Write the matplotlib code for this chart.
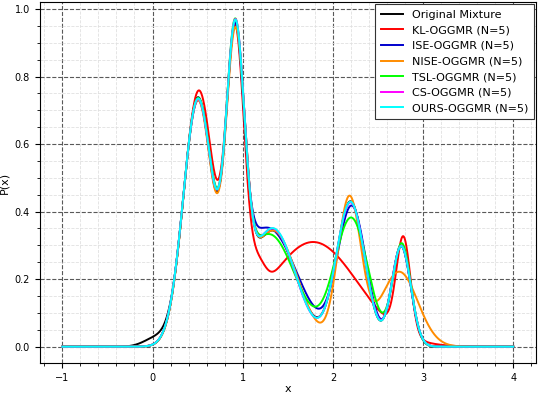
import numpy as np
import matplotlib
matplotlib.use('Agg')
import matplotlib.pyplot as plt
from matplotlib.ticker import AutoMinorLocator

# Mixture components: (amplitude, mean, std) per component
original_amp = [0.024, 0.736, 0.836, 0.344, 0.429, 0.297]
original_mu = [0.03, 0.504, 0.917, 1.333, 2.196, 2.757]
original_sd = [0.13, 0.161, 0.104, 0.262, 0.159, 0.106]

kl_amp = [0.746, 0.845, 0.091, 0.310, 0.285]
kl_mu = [0.512, 0.918, 1.168, 1.780, 2.782]
kl_sd = [0.165, 0.101, 0.085, 0.501, 0.078]

ise_amp = [0.706, 0.737, 0.352, 0.411, 0.298]
ise_mu = [0.500, 0.914, 1.275, 2.210, 2.759]
ise_sd = [0.162, 0.096, 0.334, 0.160, 0.104]

nise_amp = [0.727, 0.816, 0.344, 0.439, 0.222]
nise_mu = [0.503, 0.918, 1.335, 2.183, 2.735]
nise_sd = [0.162, 0.104, 0.269, 0.130, 0.205]

tsl_amp = [0.725, 0.789, 0.333, 0.379, 0.302]
tsl_mu = [0.504, 0.915, 1.292, 2.204, 2.765]
tsl_sd = [0.163, 0.099, 0.302, 0.188, 0.101]

cs_amp = [0.731, 0.842, 0.350, 0.426, 0.298]
cs_mu = [0.505, 0.917, 1.330, 2.196, 2.758]
cs_sd = [0.164, 0.103, 0.258, 0.161, 0.106]

ours_amp = [0.733, 0.842, 0.351, 0.428, 0.297]
ours_mu = [0.505, 0.917, 1.332, 2.195, 2.758]
ours_sd = [0.164, 0.103, 0.257, 0.160, 0.106]

labels = ['Original Mixture', 'KL-OGGMR (N=5)', 'ISE-OGGMR (N=5)',
          'NISE-OGGMR (N=5)', 'TSL-OGGMR (N=5)', 'CS-OGGMR (N=5)',
          'OURS-OGGMR (N=5)']
colors = ['black', 'red', 'mediumblue', 'darkorange', 'lime', 'magenta', 'cyan']

series = [
    (original_amp, original_mu, original_sd),
    (kl_amp, kl_mu, kl_sd),
    (ise_amp, ise_mu, ise_sd),
    (nise_amp, nise_mu, nise_sd),
    (tsl_amp, tsl_mu, tsl_sd),
    (cs_amp, cs_mu, cs_sd),
    (ours_amp, ours_mu, ours_sd),
]

x = np.linspace(-1, 4, 1500)


def density(amp, mu, sd):
    a = np.asarray(amp)[:, None]
    m = np.asarray(mu)[:, None]
    s = np.asarray(sd)[:, None]
    return (a * np.exp(-0.5 * ((x[None, :] - m) / s) ** 2)).sum(axis=0)


fig = plt.figure(figsize=(5.38, 3.96), dpi=100)
ax = fig.add_axes([39.8 / 538, 1 - 363.1 / 396, (535.8 - 39.8) / 538, (363.1 - 2.0) / 396])

for (amp, mu, sd), lab, col in zip(series, labels, colors):
    ax.plot(x, density(amp, mu, sd), color=col, lw=1.4, label=lab)

ax.set_xlim(-1.25, 4.25)
ax.set_ylim(-0.0486, 1.0206)
ax.xaxis.set_minor_locator(AutoMinorLocator())
ax.yaxis.set_minor_locator(AutoMinorLocator())
ax.grid(True, which='major', linestyle='--', color='0.35', linewidth=0.8)
ax.grid(True, which='minor', linestyle='--', color='0.88', linewidth=0.6)
ax.set_axisbelow(True)
ax.tick_params(axis='both', which='major', labelsize=7)
ax.set_xlabel('x', fontsize=8, labelpad=1)
ax.set_ylabel('P(x)', fontsize=8)

leg = ax.legend(loc='upper right', fontsize=8, labelspacing=0.5,
                borderpad=0.5, fancybox=False, edgecolor='0.2',
                framealpha=1.0, borderaxespad=0.2)
leg.get_frame().set_linewidth(0.8)

fig.savefig('out.png', dpi=100)
